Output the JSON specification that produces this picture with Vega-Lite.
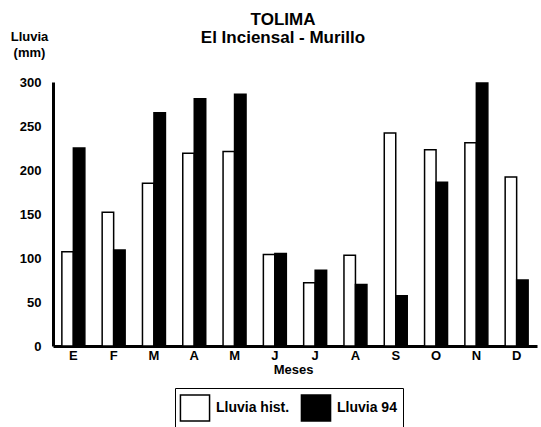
{
  "$schema": "https://vega.github.io/schema/vega-lite/v6.json",
  "autosize": {"type": "none"},
  "padding": {"left": 53, "top": 82, "right": 4, "bottom": 81},
  "width": 484,
  "height": 264,
  "background": "white",
  "title": {
    "text": ["TOLIMA", "El Inciensal - Murillo"],
    "anchor": "middle",
    "font": "Liberation Sans",
    "fontSize": 17,
    "fontWeight": "bold",
    "lineHeight": 18,
    "dx": -12,
    "offset": -17,
    "color": "black"
  },
  "data": {
    "values": [
      {"mes": "E", "serie": "Lluvia hist.", "lluvia": 107},
      {"mes": "E", "serie": "Lluvia 94", "lluvia": 225},
      {"mes": "F", "serie": "Lluvia hist.", "lluvia": 152},
      {"mes": "F", "serie": "Lluvia 94", "lluvia": 109},
      {"mes": "M1", "serie": "Lluvia hist.", "lluvia": 185},
      {"mes": "M1", "serie": "Lluvia 94", "lluvia": 265},
      {"mes": "A1", "serie": "Lluvia hist.", "lluvia": 219},
      {"mes": "A1", "serie": "Lluvia 94", "lluvia": 281},
      {"mes": "M2", "serie": "Lluvia hist.", "lluvia": 221},
      {"mes": "M2", "serie": "Lluvia 94", "lluvia": 286},
      {"mes": "J1", "serie": "Lluvia hist.", "lluvia": 104},
      {"mes": "J1", "serie": "Lluvia 94", "lluvia": 105},
      {"mes": "J2", "serie": "Lluvia hist.", "lluvia": 72},
      {"mes": "J2", "serie": "Lluvia 94", "lluvia": 86},
      {"mes": "A2", "serie": "Lluvia hist.", "lluvia": 103},
      {"mes": "A2", "serie": "Lluvia 94", "lluvia": 70},
      {"mes": "S", "serie": "Lluvia hist.", "lluvia": 242},
      {"mes": "S", "serie": "Lluvia 94", "lluvia": 57},
      {"mes": "O", "serie": "Lluvia hist.", "lluvia": 223},
      {"mes": "O", "serie": "Lluvia 94", "lluvia": 186},
      {"mes": "N", "serie": "Lluvia hist.", "lluvia": 231},
      {"mes": "N", "serie": "Lluvia 94", "lluvia": 299},
      {"mes": "D", "serie": "Lluvia hist.", "lluvia": 192},
      {"mes": "D", "serie": "Lluvia 94", "lluvia": 75}
    ]
  },
  "mark": {"type": "bar", "stroke": "black", "strokeWidth": 1.5},
  "encoding": {
    "x": {
      "field": "mes",
      "type": "nominal",
      "sort": null,
      "scale": {"paddingInner": 0.43, "paddingOuter": 0.22},
      "axis": {
        "title": "Meses",
        "labelExpr": "substring(datum.label, 0, 1)",
        "labelAngle": 0,
        "labelFont": "Liberation Sans",
        "labelFontWeight": "bold",
        "labelFontSize": 13,
        "labelColor": "black",
        "labelPadding": 3,
        "ticks": false,
        "domainColor": "black",
        "domainWidth": 3,
        "titleFont": "Liberation Sans",
        "titleFontWeight": "bold",
        "titleFontSize": 13,
        "titleColor": "black",
        "titlePadding": 1,
        "titleX": 240
      }
    },
    "xOffset": {"field": "serie", "type": "nominal", "sort": ["Lluvia hist.", "Lluvia 94"], "scale": {"paddingInner": 0, "paddingOuter": 0}},
    "y": {
      "field": "lluvia",
      "type": "quantitative",
      "scale": {"domain": [0, 300], "nice": false},
      "axis": {
        "values": [0, 50, 100, 150, 200, 250, 300],
        "grid": false,
        "ticks": false,
        "labelFont": "Liberation Sans",
        "labelFontWeight": "bold",
        "labelFontSize": 13,
        "labelColor": "black",
        "labelPadding": 12,
        "domainColor": "black",
        "domainWidth": 3,
        "title": ["Lluvia", "(mm)"],
        "titleAngle": 0,
        "titleAlign": "center",
        "titleBaseline": "top",
        "titleX": -24,
        "titleY": -52,
        "titleFont": "Liberation Sans",
        "titleFontWeight": "bold",
        "titleFontSize": 13,
        "titleLineHeight": 16,
        "titleColor": "black"
      }
    },
    "fill": {
      "field": "serie",
      "type": "nominal",
      "scale": {"domain": ["Lluvia hist.", "Lluvia 94"], "range": ["white", "black"]},
      "legend": {
        "title": null,
        "orient": "none",
        "legendX": 122,
        "legendY": 306,
        "direction": "horizontal",
        "strokeColor": "black",
        "padding": 6,
        "symbolType": "M-1.12,-1L1.12,-1L1.12,1L-1.12,1Z",
        "symbolSize": 676,
        "symbolStrokeColor": "black",
        "symbolStrokeWidth": 1.5,
        "symbolOpacity": 1,
        "labelFont": "Liberation Sans",
        "labelFontWeight": "bold",
        "labelFontSize": 14,
        "labelColor": "black",
        "labelOffset": 7,
        "columnPadding": 8
      }
    }
  },
  "config": {"view": {"stroke": null}}
}
